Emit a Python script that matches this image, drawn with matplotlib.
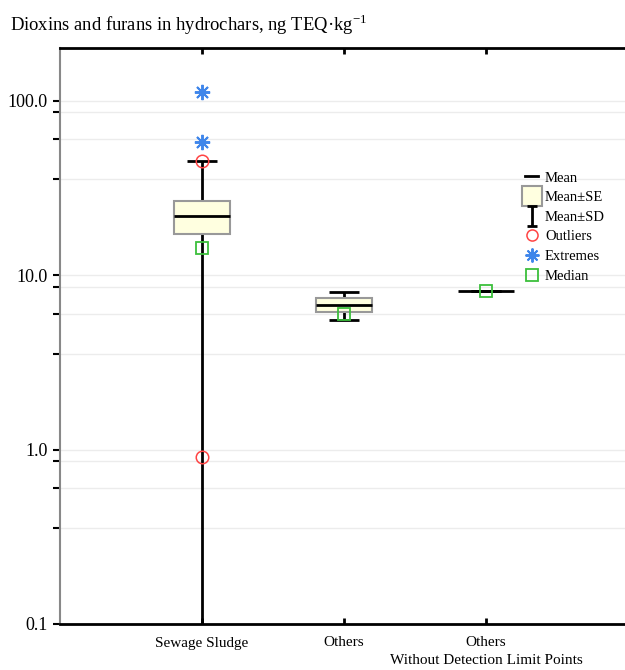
import matplotlib
matplotlib.use("Agg")
import matplotlib.pyplot as plt
from matplotlib.lines import Line2D
from matplotlib.path import Path
from matplotlib.ticker import FixedLocator, FuncFormatter

plt.rcParams["font.family"] = ["Liberation Serif", "DejaVu Serif"]
plt.rcParams["mathtext.fontset"] = "custom"
plt.rcParams["mathtext.rm"] = "Liberation Serif"

# data (ng TEQ/kg)
groups = ["Sewage Sludge", "Others", "Others\nWithout Detection Limit Points"]
means = [21.8, 6.75, 8.1]
se = [4.6, 0.65, 0.0]
sd = [23.2, 1.2, 0.0]
medians = [14.2, 5.95, 8.1]
outliers = {0: [45.0, 0.91]}
extremes = {0: [112.0, 57.5]}

y_min, y_max = 0.1, 200
box_fill = "#ffffe0"
box_edge = "#999999"
red = "#ff4444"
blue = "#3f86ea"
green = "#3cbf3c"

fig = plt.figure(figsize=(6.25, 6.7), dpi=100)
ax = fig.add_axes([60 / 625, 46 / 670, 568 / 625, 576 / 670])
ax.set_yscale("log")
ax.set_ylim(y_min, y_max)
ax.set_xlim(0, 4)

xs = [i + 1 for i in range(len(groups))]
box_w, cap_w = 0.4, 0.21

# grid at major + odd minor positions
minor_mult = [0.854, 0.598, 0.354]
majors = [0.1, 1, 10, 100]
minors = [m * f for m in [1, 10, 100, 1000] for f in minor_mult if y_min < m * f < y_max]
for v in majors[1:] + minors:
    ax.axhline(v, color="#ececec", lw=1, zorder=0)

for i, x in enumerate(xs):
    top = means[i] + sd[i]
    low = means[i] - sd[i]
    clipped = low <= 0
    if clipped:
        low = y_min
    ax.vlines(x, low, top, color="black", lw=2, zorder=2)
    ax.hlines(top, x - cap_w / 2, x + cap_w / 2, color="black", lw=2, zorder=2)
    if not clipped:
        ax.hlines(low, x - cap_w / 2, x + cap_w / 2, color="black", lw=2, zorder=2)
    if se[i] > 0:
        ax.bar(x, 2 * se[i], bottom=means[i] - se[i], width=box_w,
               facecolor=box_fill, edgecolor=box_edge, lw=1.5, zorder=3)
    ax.hlines(means[i], x - box_w / 2, x + box_w / 2, color="black", lw=2, zorder=4)
    ax.plot(x, medians[i], "s", ms=9, mfc="none", mec=green, mew=1.3, zorder=5)
    for v in outliers.get(i, []):
        ax.plot(x, v, "o", ms=9, mfc="none", mec=red, mew=1.1, zorder=5)
    for v in extremes.get(i, []):
        ax.plot(x, v, marker=(8, 2, 0), ms=11, color=blue, mew=1.4, ls="none", zorder=5)

# axes styling
ax.spines["right"].set_visible(False)
ax.spines["left"].set_color("#888888")
ax.spines["left"].set_linewidth(1.5)
ax.spines["top"].set_linewidth(2)
ax.spines["bottom"].set_linewidth(2)
ax.yaxis.set_major_locator(FixedLocator(majors))
ax.yaxis.set_minor_locator(FixedLocator(minors))
ax.yaxis.set_major_formatter(FuncFormatter(lambda v, p: f"{v:.1f}"))
ax.yaxis.set_minor_formatter(FuncFormatter(lambda v, p: ""))
ax.tick_params(axis="y", which="both", direction="out", length=5, width=1.5,
               color="black", labelsize=13, pad=4)
ax.set_xticks(xs)
ax.set_xticklabels(groups, fontsize=11, linespacing=1.5)
ax.tick_params(axis="x", direction="in", length=4, width=2, top=True, pad=9)

# legend with custom I-beam marker for Mean±SD
ibeam = Path([(-0.5, -1), (0.5, -1), (0, -1), (0, 1), (-0.5, 1), (0.5, 1)],
             [Path.MOVETO, Path.LINETO, Path.MOVETO, Path.LINETO, Path.MOVETO, Path.LINETO])
handles = [
    Line2D([], [], color="black", lw=2),
    Line2D([], [], marker="s", ms=14, mfc=box_fill, mec=box_edge, mew=1.5, ls="none"),
    Line2D([], [], marker=ibeam, ms=14, color="black", mew=2, ls="none"),
    Line2D([], [], marker="o", ms=8, mfc="none", mec=red, mew=1.1, ls="none"),
    Line2D([], [], marker=(8, 2, 0), ms=10, color=blue, mew=1.4, ls="none"),
    Line2D([], [], marker="s", ms=8, mfc="none", mec=green, mew=1.3, ls="none"),
]
labels = ["Mean", "Mean±SE", "Mean±SD", "Outliers", "Extremes", "Median"]
ax.legend(handles, labels, loc="upper left", bbox_to_anchor=(518 / 625, 1 - 164 / 670),
          bbox_transform=fig.transFigure, frameon=False, fontsize=10.5,
          handlelength=0.9, handletextpad=0.45, labelspacing=0.44, borderpad=0)

fig.text(10 / 625, 1 - 25 / 670,
         "Dioxins and furans in hydrochars, ng TEQ·kg$^{\\mathregular{-1}}$",
         fontsize=13.4, va="center", ha="left")

fig.savefig("out.png", dpi=100)
